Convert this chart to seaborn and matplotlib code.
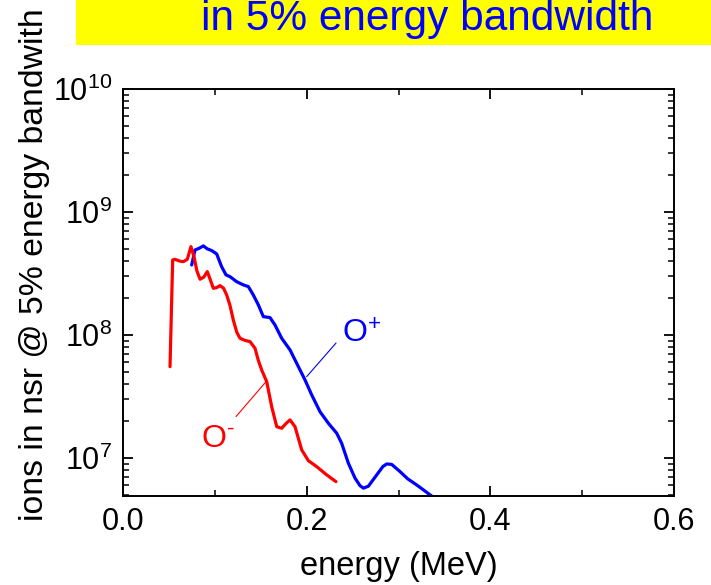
import numpy as np
import pandas as pd
import matplotlib
matplotlib.use("Agg")
import matplotlib.pyplot as plt
import seaborn as sns
from matplotlib.patches import Rectangle
from matplotlib.ticker import LogLocator, FixedLocator

# ---- data ----
o_minus_energy = [0.0512, 0.0541, 0.0566, 0.0620, 0.0657, 0.0700, 0.0740, 0.0773,
                  0.0805, 0.0839, 0.0880, 0.0918, 0.0950, 0.0984, 0.1020, 0.1056,
                  0.1095, 0.1129, 0.1165, 0.1201, 0.1240, 0.1274, 0.1330, 0.1383,
                  0.1437, 0.1475, 0.1510, 0.1565, 0.1619, 0.1674, 0.1728, 0.1775,
                  0.1819, 0.1873, 0.1946, 0.2018, 0.2109, 0.2218, 0.2319]
o_minus_log = [7.742, 8.610, 8.615, 8.600, 8.596, 8.615, 8.718, 8.637,
               8.520, 8.453, 8.470, 8.515, 8.450, 8.379, 8.385, 8.401,
               8.380, 8.325, 8.240, 8.122, 8.020, 7.973, 7.955, 7.946,
               7.892, 7.790, 7.715, 7.620, 7.417, 7.254, 7.241, 7.280,
               7.309, 7.254, 7.065, 6.978, 6.929, 6.862, 6.807]

o_plus_energy = [0.0748, 0.0784, 0.0830, 0.0875, 0.0918, 0.0966, 0.1020, 0.1074,
                 0.1122, 0.1165, 0.1238, 0.1310, 0.1365, 0.1419, 0.1474, 0.1528,
                 0.1601, 0.1655, 0.1728, 0.1819, 0.1891, 0.1982, 0.2055, 0.2145,
                 0.2236, 0.2327, 0.2381, 0.2454, 0.2527, 0.2580, 0.2618, 0.2672,
                 0.2763, 0.2830, 0.2872, 0.2926, 0.3016, 0.3100, 0.3198, 0.3280,
                 0.3361, 0.3400]
o_plus_log = [8.569, 8.691, 8.705, 8.724, 8.700, 8.686, 8.659, 8.555,
              8.488, 8.474, 8.433, 8.407, 8.393, 8.325, 8.244, 8.149,
              8.141, 8.081, 7.973, 7.878, 7.770, 7.634, 7.512, 7.376,
              7.282, 7.201, 7.119, 6.957, 6.835, 6.775, 6.754, 6.770,
              6.862, 6.930, 6.951, 6.947, 6.889, 6.830, 6.780, 6.735,
              6.690, 6.670]

o_minus_counts = [10 ** v for v in o_minus_log]
o_plus_counts = [10 ** v for v in o_plus_log]

x_ticks = [0.0, 0.2, 0.4, 0.6]
x_tick_labels = ["0.0", "0.2", "0.4", "0.6"]
title_text = "in 5% energy bandwidth"
x_label = "energy (MeV)"
y_label = "ions in nsr @ 5% energy bandwith"

# ---- style ----
sns.set_style("ticks")
plt.rcParams["font.family"] = ["Liberation Sans", "DejaVu Sans"]
plt.rcParams["mathtext.fontset"] = "custom"
plt.rcParams["mathtext.rm"] = "Liberation Sans"
plt.rcParams["mathtext.it"] = "Liberation Sans"
plt.rcParams["mathtext.bf"] = "Liberation Sans"
for k in ["text.color", "axes.labelcolor", "xtick.color", "ytick.color", "axes.edgecolor"]:
    plt.rcParams[k] = "black"

fig = plt.figure(figsize=(7.11, 5.85), dpi=100)
fig.patch.set_facecolor("white")
ax = fig.add_axes([123 / 711, (585 - 496) / 585, 551 / 711, 407 / 585])

df_minus = pd.DataFrame({"energy": o_minus_energy, "ions": o_minus_counts})
df_plus = pd.DataFrame({"energy": o_plus_energy, "ions": o_plus_counts})

sns.lineplot(data=df_plus, x="energy", y="ions", ax=ax, color="#0000ff",
             linewidth=2.3, sort=False, estimator=None)
sns.lineplot(data=df_minus, x="energy", y="ions", ax=ax, color="#ff0000",
             linewidth=2.3, sort=False, estimator=None)

ax.set_yscale("log")
ax.set_xlim(0.0, 0.6)
ax.set_ylim(4.9e6, 1e10)

ax.set_xticks(x_ticks)
ax.set_xticklabels(x_tick_labels)
ax.xaxis.set_minor_locator(FixedLocator([0.1, 0.3, 0.5]))
ax.yaxis.set_major_locator(LogLocator(base=10, numticks=10))
ax.yaxis.set_minor_locator(LogLocator(base=10, subs=np.arange(2, 10), numticks=20))

for s in ax.spines.values():
    s.set_linewidth(1.4)
    s.set_color("black")
    s.set_visible(True)

ax.tick_params(which="both", direction="in", top=True, right=True, color="black",
               labelcolor="black")
ax.tick_params(which="major", length=7, width=1.3, labelsize=22, pad=8)
ax.tick_params(which="minor", length=4.5, width=1.1)
ax.tick_params(axis="x", which="major", pad=8)

ax.set_xlabel(x_label, fontsize=23.5, labelpad=10)
ax.set_ylabel(y_label, fontsize=24.3)
ax.yaxis.set_label_coords(-0.1325, (496 - 265) / 407)
ax.grid(False)

# annotations
ax.plot([0.232, 0.200], [8.6e7, 4.58e7], color="#0000ff", linewidth=0.8)
ax.plot([0.1231, 0.1565], [2.17e7, 4.23e7], color="#ff0000", linewidth=0.8)
ax.text(0.2385, 8.6e7, r"O$^{+}$", color="#0000ff", fontsize=23, ha="left", va="baseline")
ax.text(0.0850, 1.23e7, r"O$^{\text{-}}$", color="#ff0000", fontsize=23, ha="left", va="baseline")

# yellow title box
fig.patches.append(Rectangle((76 / 711, (585 - 45) / 585), 1 - 76 / 711, 45 / 585,
                             transform=fig.transFigure, facecolor="#ffff00",
                             edgecolor="none", zorder=0))
fig.text(427 / 711, (585 - 30) / 585, title_text, color="#0000ff", fontsize=30.5,
         ha="center", va="baseline")

fig.savefig("out.png", dpi=100, facecolor="white")
